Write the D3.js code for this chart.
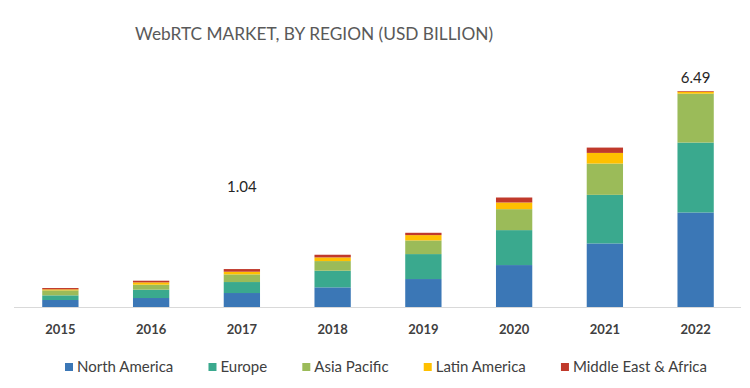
<!DOCTYPE html>
<html>
<head>
<meta charset="utf-8">
<script src="https://cdn.jsdelivr.net/npm/d3@7"></script>
<style>
  body { margin: 0; background: #fff; }
  svg { display: block; font-family: Lato, 'Open Sans', sans-serif; }
</style>
</head>
<body>
<div id="chart"></div>
<script>
const years = ['2015', '2016', '2017', '2018', '2019', '2020', '2021', '2022'];
const regions = ['North America', 'Europe', 'Asia Pacific', 'Latin America', 'Middle East & Africa'];
const northAmerica = [0.21, 0.27, 0.42, 0.59, 0.84, 1.26, 1.91, 2.84];
const europe = [0.14, 0.25, 0.33, 0.50, 0.75, 1.05, 1.46, 2.10];
const asiaPacific = [0.15, 0.15, 0.23, 0.29, 0.41, 0.63, 0.94, 1.47];
const latinAmerica = [0.03, 0.07, 0.08, 0.11, 0.16, 0.20, 0.32, 0.06];
const middleEastAfrica = [0.04, 0.05, 0.08, 0.08, 0.07, 0.15, 0.16, 0.02];
// the 2017 callout floats well above its bar in the original
const callouts = [
  { year: '2017', text: '1.04', at: 3.2 },
  { year: '2022', text: '6.49', at: 6.49 },
];
const colors = ['#3b77b6', '#3aa98e', '#9bbb59', '#ffc000', '#c0392b'];

const width = 750;
const height = 388;
const baseline = 307;

const series = [northAmerica, europe, asiaPacific, latinAmerica, middleEastAfrica];
const rows = years.map((year, i) => {
  const row = { year };
  regions.forEach((r, j) => { row[r] = series[j][i]; });
  return row;
});

const stacked = d3.stack().keys(regions)(rows);

const x = d3.scaleBand()
  .domain(years)
  .range([15, 741])
  .paddingInner(0.6)
  .paddingOuter(0.3);

const y = d3.scaleLinear()
  .domain([0, 6.49])
  .range([baseline, 91]);

const color = d3.scaleOrdinal().domain(regions).range(colors);

const svg = d3.select('#chart')
  .append('svg')
  .attr('width', width)
  .attr('height', height);

svg.append('text')
  .attr('x', 135)
  .attr('y', 40)
  .style('font-size', '17.3px')
  .style('fill', '#595959')
  .text('WebRTC MARKET, BY REGION (USD BILLION)');

const bars = svg.append('g').attr('class', 'bars');

bars.selectAll('g')
  .data(stacked)
  .join('g')
  .attr('fill', (d) => color(d.key))
  .selectAll('rect')
  .data((d) => d)
  .join('rect')
  .attr('x', (d) => x(d.data.year))
  .attr('width', x.bandwidth())
  .attr('y', (d) => y(d[1]))
  .attr('height', (d) => y(d[0]) - y(d[1]));

svg.append('line')
  .attr('x1', 14)
  .attr('x2', 741)
  .attr('y1', baseline + 0.5)
  .attr('y2', baseline + 0.5)
  .style('stroke', '#d9d9d9')
  .style('stroke-width', 1);

const xAxis = svg.append('g')
  .attr('transform', `translate(0,${baseline})`)
  .call(d3.axisBottom(x).tickSize(0).tickPadding(18));

xAxis.select('.domain').remove();
xAxis.selectAll('text')
  .style('font-family', "Lato, 'Open Sans', sans-serif")
  .style('font-size', '13px')
  .style('font-weight', 'bold')
  .style('fill', '#404040');

svg.append('g')
  .selectAll('text')
  .data(callouts)
  .join('text')
  .attr('x', (d) => x(d.year) + x.bandwidth() / 2)
  .attr('y', (d) => y(d.at) - 8)
  .attr('text-anchor', 'middle')
  .style('font-size', '15px')
  .style('fill', '#262626')
  .text((d) => d.text);

const legend = svg.append('g').attr('class', 'legend');
const items = legend.selectAll('g')
  .data(regions)
  .join('g');

items.append('rect')
  .attr('width', 8)
  .attr('height', 8)
  .attr('y', -4)
  .attr('fill', (d) => color(d));

items.append('text')
  .attr('x', 12)
  .attr('dy', '0.35em')
  .style('font-size', '15px')
  .style('fill', '#404040')
  .text((d) => d);

// spread the legend items over the same span as in the original
const legendLeft = 65;
const legendRight = 707;
const itemWidths = [];
items.each(function() {
  itemWidths.push(12 + d3.select(this).select('text').node().getComputedTextLength());
});
const gap = (legendRight - legendLeft - d3.sum(itemWidths)) / (regions.length - 1);
let cursor = legendLeft;
items.each(function(d, i) {
  d3.select(this).attr('transform', `translate(${cursor},0)`);
  cursor += itemWidths[i] + gap;
});
legend.attr('transform', 'translate(0,367)');
</script>
</body>
</html>
